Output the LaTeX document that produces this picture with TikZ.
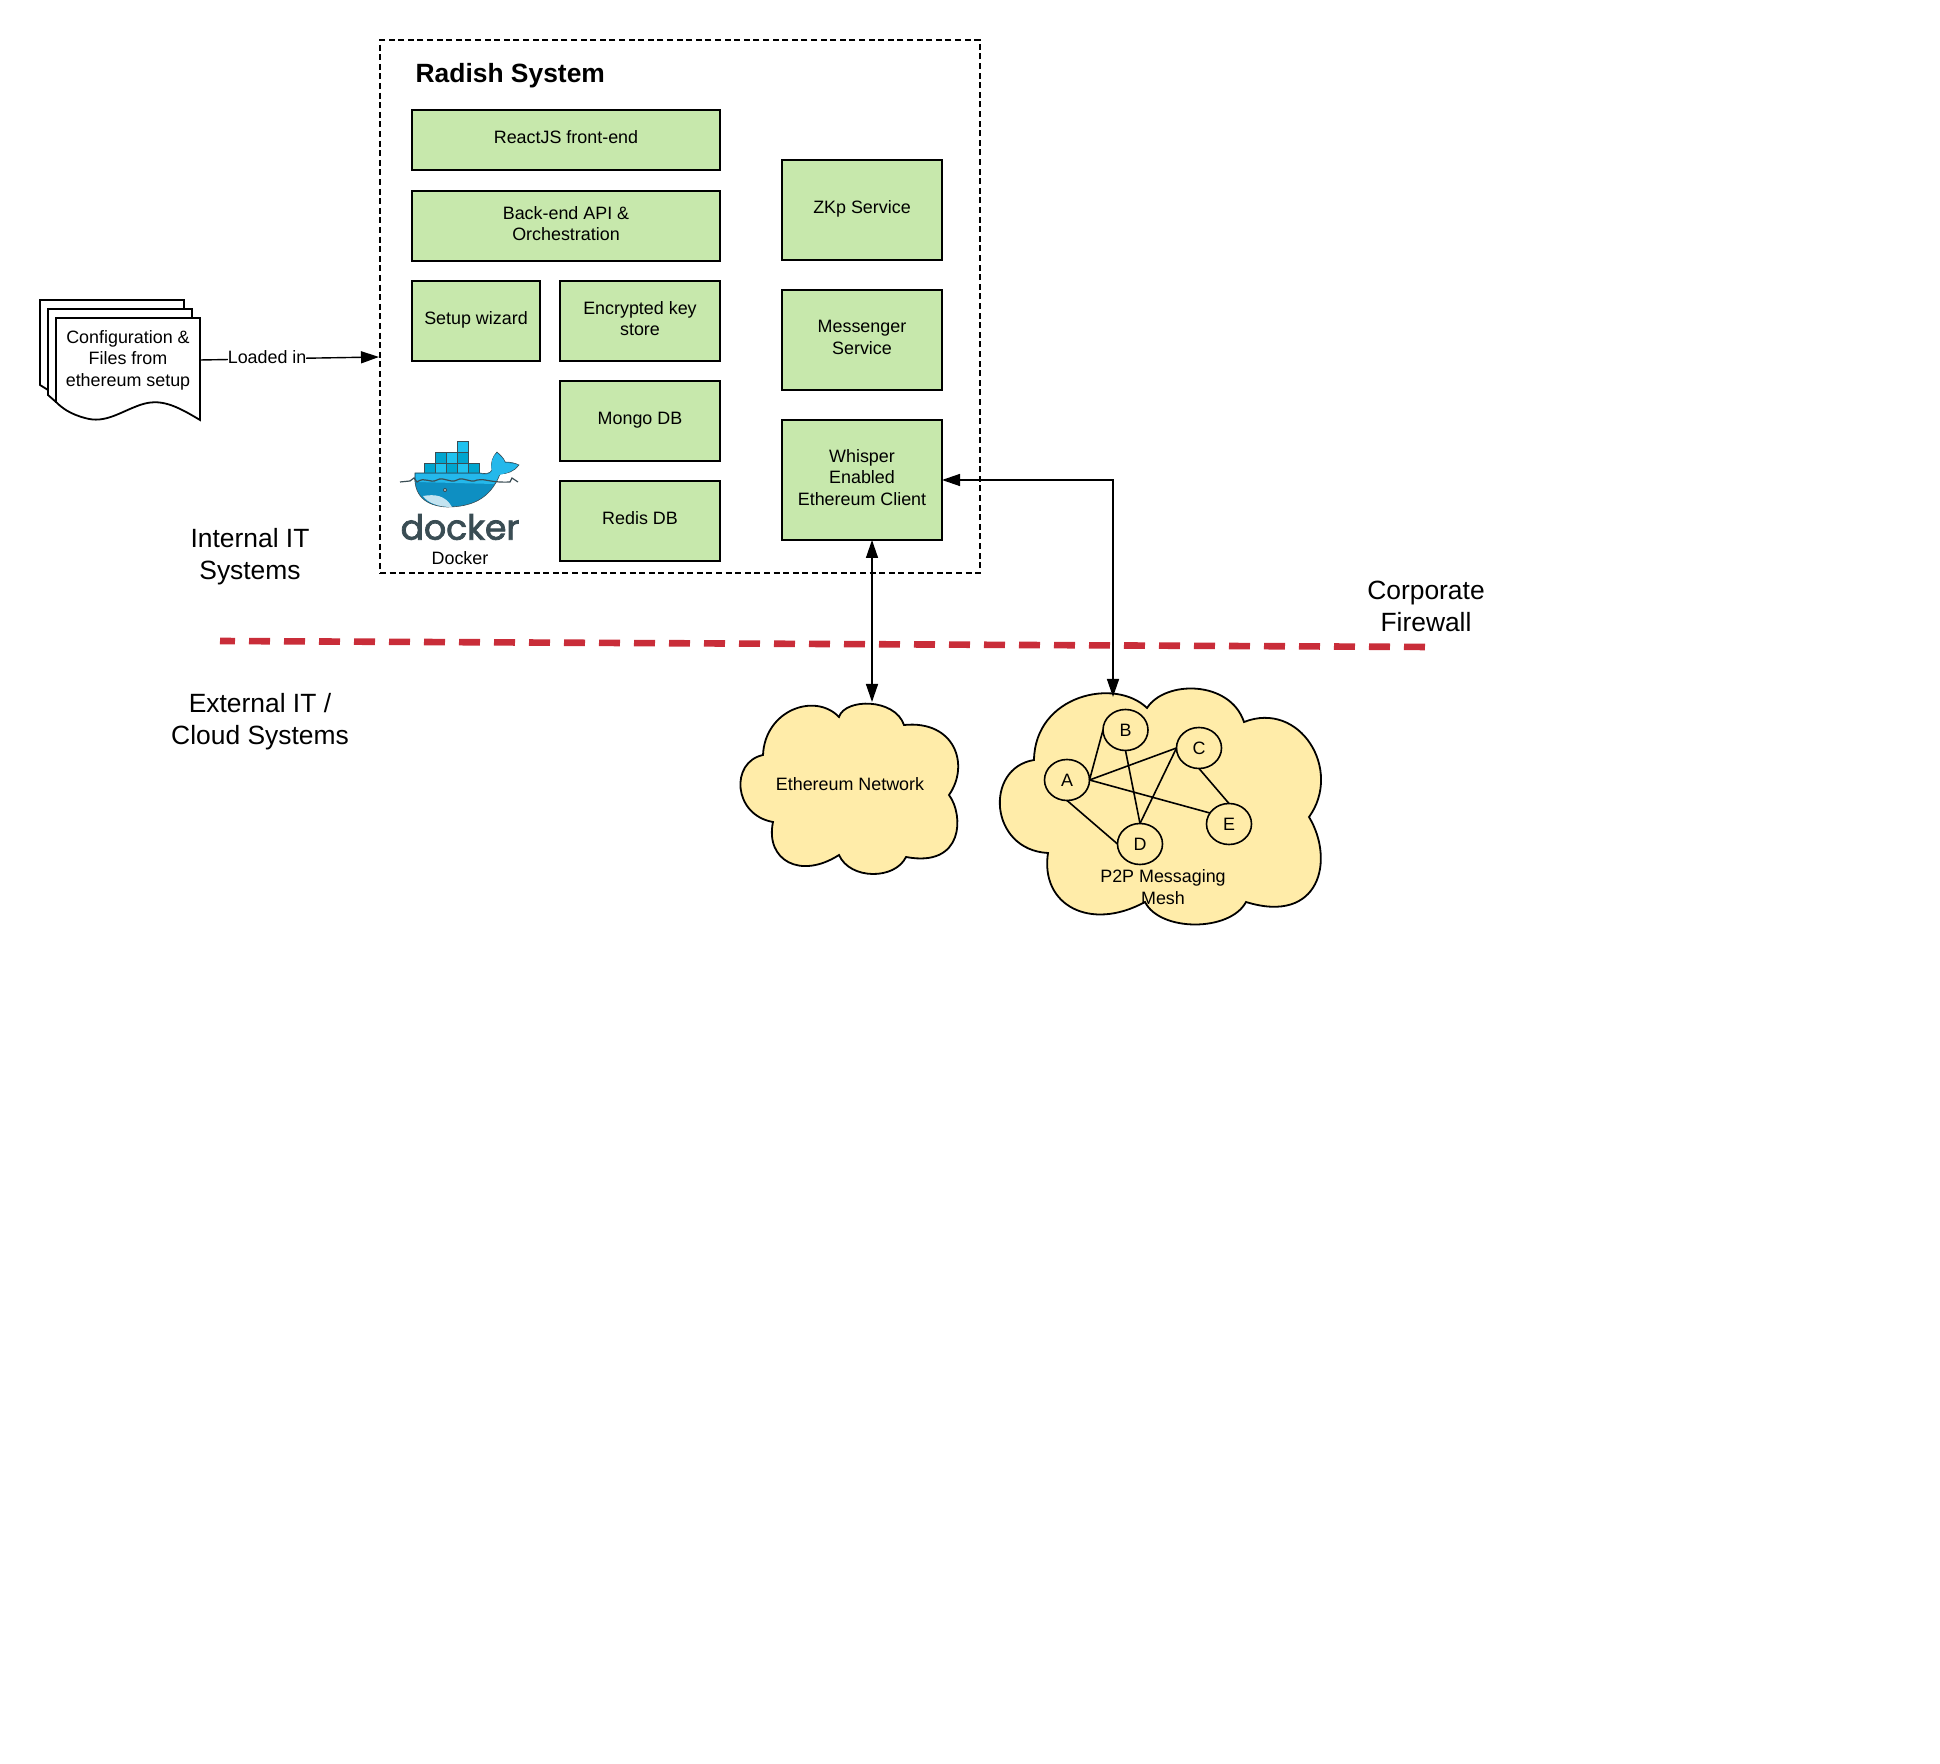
\documentclass[tikz,border=0pt]{standalone}
\usepackage{fontspec}
\setmainfont{Liberation Sans}
\newfontfamily\dockerfont[FakeBold=2.2]{Poppins}
\usepackage{xcolor}
\usetikzlibrary{arrows.meta,positioning,shapes.geometric}
\definecolor{boxgreen}{HTML}{C7E8AC}
\definecolor{cloudyellow}{HTML}{FFECA9}
\definecolor{firered}{HTML}{C92D39}
\definecolor{dockerslate}{HTML}{3A4D54}
\definecolor{whaletop}{HTML}{24B8EB}
\definecolor{whalelow}{HTML}{0E8FC2}
\definecolor{crateA}{HTML}{00A5CF}
\definecolor{crateB}{HTML}{20C2EF}

\begin{document}
\begin{tikzpicture}[
  x=0.5pt, y=-0.5pt,
  node distance=10pt and 9pt,
  every node/.style={font=\fontsize{8.95}{10.8}\selectfont, align=center, outer sep=0pt},
  box/.style={draw, fill=boxgreen, line width=0.9pt, inner sep=1pt, text depth=2.5pt},
  wide/.style={box, minimum width=154pt, minimum height=30pt},
  small/.style={box, minimum width=80pt, minimum height=40pt},
  side/.style={box, minimum width=80pt, minimum height=50pt},
  peer/.style={draw, ellipse, line width=0.8pt, minimum width=22.5pt, minimum height=20.5pt, inner sep=0pt},
  link/.style={line width=0.8pt},
  cloudline/.style={draw, fill=cloudyellow, line width=0.9pt},
  paper/.style={draw, fill=white, line width=0.9pt},
  big/.style={font=\fontsize{13.2}{16}\selectfont},
  arr/.style={-{Triangle[length=9pt,width=6pt]}, line width=0.7pt},
  dbl/.style={{Triangle[length=9pt,width=6pt]}-{Triangle[length=9pt,width=6pt]}, line width=0.7pt}
]
\useasboundingbox (0,0) rectangle (1940,1764);

\node[draw, dash pattern=on 3pt off 1.8pt, line width=0.9pt, minimum width=300pt, minimum height=266.5pt] (radish) at (680,306.5) {};
\node[anchor=west, font=\fontsize{13.2}{16}\bfseries] (title) at (409,76) {Radish System};

\node[wide, anchor=north west] (react) at (412,110) {ReactJS front-end};
\node[wide, below=10.5pt of react, minimum height=35pt] (backend) {Back-end API \&\\Orchestration};
\node[small, below=of backend.south east, anchor=north east] (keystore) {Encrypted key\\store};
\node[box, below=of backend.south west, anchor=north west, minimum width=64pt, minimum height=40pt] (wizard) {Setup wizard};
\node[small, below=of keystore] (mongo) {Mongo DB};
\node[small, below=of mongo] (redis) {Redis DB};

\node[side, anchor=north west] (zkp) at (782,160) {ZKp Service};
\node[side, below=15pt of zkp] (messenger) {Messenger\\Service};
\node[side, below=15pt of messenger, minimum height=60pt] (whisper) {Whisper\\Enabled\\Ethereum Client};

\foreach \cx/\cy/\ctone in {424/463/crateA,435/463/crateB,446/463/crateA,457/463/crateB,468/463/crateA,
  435/452/crateA,446/452/crateB,457/452/crateA,457/441/crateB}
  \draw[fill=\ctone, draw=dockerslate, line width=0.3pt] (\cx,\cy) rectangle ++(11,11);
\fill[whalelow, draw=dockerslate, line width=0.3pt] (415,473) -- (480,473) .. controls (485,474) and (490,474) .. (492,470)
  .. controls (490,463) and (493,456) .. (497,452) .. controls (500,455) and (504,458) .. (505,462)
  .. controls (510,462) and (515,463) .. (519,465) .. controls (515,471) and (507,474) .. (500,474)
  .. controls (490,500) and (470,507) .. (447,507) .. controls (425,506) and (413,495) .. (415,473) -- cycle;
\fill[whaletop] (416,474) -- (480,474) .. controls (485,475) and (490,475) .. (492,471)
  .. controls (490,463) and (493,456) .. (497,453) .. controls (500,456) and (504,459) .. (505,463)
  .. controls (510,463) and (515,464) .. (518,465) .. controls (514,471) and (507,473) .. (499,475)
  .. controls (497,480) and (496,482) .. (494,484) -- (416,482) -- cycle;
\fill[white!75!whalelow] (423,496) .. controls (435,494) and (445,495) .. (452,507) .. controls (438,507) and (428,503) .. (423,496) -- cycle;
\draw[dockerslate, line width=0.6pt] (400,482) -- (410,481) -- (414,478) -- (417,482)
  .. controls (425,476) and (430,484) .. (437,480) .. controls (444,476) and (450,484) .. (457,480) .. controls (464,476) and (470,484) .. (477,480)
  .. controls (484,478) and (490,483) .. (510,482) -- (512,478) -- (518,482);
\fill[dockerslate] (445,490) circle (2);
\fill[white] (445,490) circle (0.8);
\node[text=dockerslate, font=\dockerfont\fontsize{17.3}{20}\selectfont, inner sep=0pt] (dockerword) at (460,527) {docker};
\node (dockerlabel) at (460,558) {Docker};

\draw[paper] (40,300) -- (184,300) -- (184,390) -- (56,395) -- (40,385) -- cycle;
\draw[paper] (48,309) -- (192,309) -- (192,399) -- (56,402) -- (48,395) -- cycle;
\draw[paper] (56,318) -- (200,318) -- (200,420) .. controls (175,405) and (160,398) .. (140,405)
  .. controls (120,412) and (105,424) .. (85,418) .. controls (70,414) and (62,408) .. (56,402) -- cycle;
\node (config) at (128,360) {Configuration \&\\Files from\\ethereum setup};
\coordinate (configout) at (200,360);
\coordinate (loadpoint) at (379,357);
\draw[arr] (configout) -- node[pos=0.375, fill=white, inner sep=0pt, yshift=1pt] (loaded) {Loaded in} (loadpoint);

\node[big] (internal) at (250,556.5) {Internal IT\\Systems};
\node[big] (external) at (260,721.5) {External IT /\\Cloud Systems};
\node[big] (corporate) at (1426,606) {Corporate\\Firewall};
\coordinate (firestart) at (220,641);
\coordinate (fireend) at (1429,647);
\draw[firered, line width=3.3pt, dash pattern=on 10.5pt off 7pt, dash phase=3pt] (firestart) -- (fireend);

\draw[cloudline] (839,717) .. controls (845,698) and (895,698) .. (904,725)
  .. controls (955,720) and (970,765) .. (949,795)
  .. controls (964,815) and (964,868) .. (906,857)
  .. controls (895,880) and (850,880) .. (839,855)
  .. controls (800,880) and (765,860) .. (773,822)
  .. controls (733,815) and (730,762) .. (763,755)
  .. controls (765,710) and (815,692) .. (839,717) -- cycle;
\node (ethnet) at (850,784) {Ethereum Network};
\coordinate (ethtop) at (872,702);

\draw[cloudline] (1147,708) .. controls (1165,680) and (1230,680) .. (1244,722)
  .. controls (1300,700) and (1343,770) .. (1309,817)
  .. controls (1335,860) and (1320,925) .. (1246,902)
  .. controls (1230,932) and (1160,932) .. (1145,902)
  .. controls (1090,932) and (1040,905) .. (1048,853)
  .. controls (989,850) and (984,768) .. (1034,760)
  .. controls (1035,695) and (1115,677) .. (1147,708) -- cycle;
\coordinate (meshtop) at (1113,697);

\node[peer] (peerA) at (1067,780) {A};
\node[peer] (peerB) at (1125.5,730) {B};
\node[peer] (peerC) at (1199,748) {C};
\node[peer] (peerD) at (1140,844) {D};
\node[peer] (peerE) at (1229,824) {E};
\node (mesh) at (1163,887) {P2P Messaging\\Mesh};

\draw[link] (peerA.east) -- (peerB.west);
\draw[link] (peerA.east) -- (peerC.west);
\draw[link] (peerA.east) -- (peerE.150);
\draw[link] (peerA.south) -- (peerD.west);
\draw[link] (peerB.south) -- (peerD.north);
\draw[link] (peerC.west) -- (peerD.north);
\draw[link] (peerC.south) -- (peerE.north);

\draw[dbl] (ethtop |- whisper.south) -- (ethtop);
\draw[dbl] (whisper.east) -| (meshtop);
\end{tikzpicture}
\end{document}
